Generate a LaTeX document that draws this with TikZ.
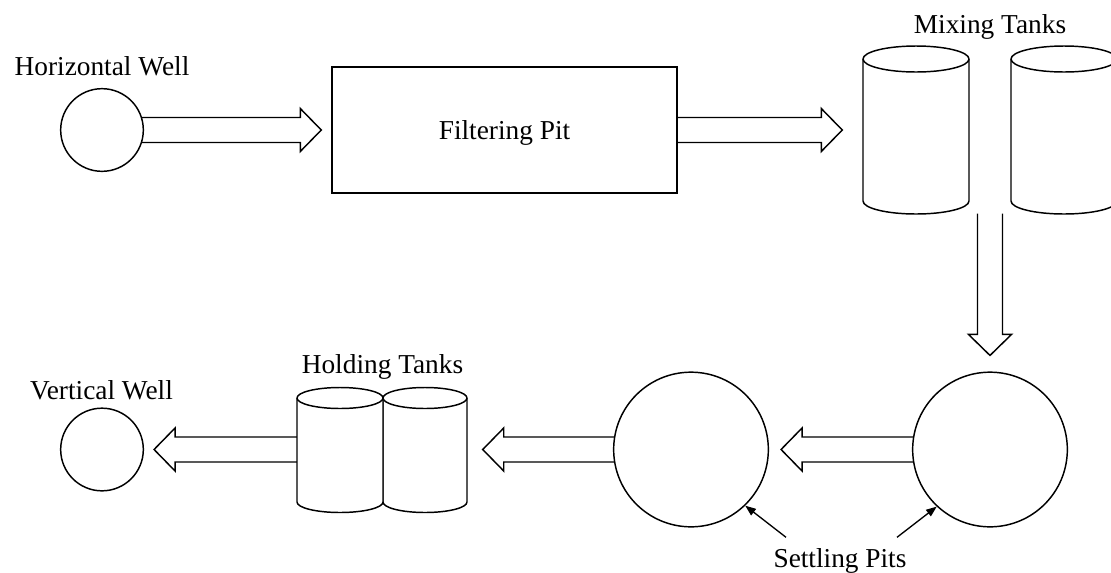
\documentclass[tikz,border=0pt]{standalone}
\usepackage{fontspec}
\setmainfont{Liberation Serif}
\usetikzlibrary{calc,backgrounds,arrows.meta}

% cylinder tank: #1 name, #2 centre x, #3 top y, #4 bottom y, #5 x radius, #6 y radius
\newcommand\tank[6]{%
  \path[tankline] (#2-#5,#3) -- (#2-#5,#4)
      arc[start angle=180, end angle=0, x radius=#5, y radius=#6] -- (#2+#5,#3);
  \path[tankline] (#2,#3) ellipse[x radius=#5, y radius=#6];
  \node[inner sep=0, minimum width={1.5pt*#5}, minimum height={0.75pt*(#4-#3)}]
      (#1) at (#2,{(#3+#4)/2}) {};
}
% open-tailed block arrows (tail, tip)
\newcommand\arrowR[2]{%
  \draw[blockarrow] ($(#1)+(0,-12.5)$) -- ($(#2)+(-21,-12.5)$) -- ($(#2)+(-21,-21.5)$)
    -- (#2) -- ($(#2)+(-21,21.5)$) -- ($(#2)+(-21,12.5)$) -- ($(#1)+(0,12.5)$);}
\newcommand\arrowL[2]{%
  \draw[blockarrow] ($(#1)+(0,-12.5)$) -- ($(#2)+(21,-12.5)$) -- ($(#2)+(21,-21.5)$)
    -- (#2) -- ($(#2)+(21,21.5)$) -- ($(#2)+(21,12.5)$) -- ($(#1)+(0,12.5)$);}
\newcommand\arrowD[2]{%
  \draw[blockarrow] ($(#1)+(-12.5,0)$) -- ($(#2)+(-12.5,-21)$) -- ($(#2)+(-21.5,-21)$)
    -- (#2) -- ($(#2)+(21.5,-21)$) -- ($(#2)+(12.5,-21)$) -- ($(#1)+(12.5,0)$);}

\begin{document}
\begin{tikzpicture}[x=0.75pt, y=-0.75pt, line width=1.1pt,
  every node/.style={font=\fontsize{20.5}{24}\selectfont},
  labeltext/.style={anchor=base, inner sep=0},
  well/.style={circle, draw, fill=white, minimum size=62pt, inner sep=0},
  pit/.style={circle, draw, fill=white, minimum size=116pt, inner sep=0},
  tankline/.style={draw, fill=white, line join=round},
  blockarrow/.style={line width=1.1pt, line join=miter},
  pointer/.style={-{Triangle[length=8pt, width=6pt]}, line width=1pt}]

\useasboundingbox (0,0) rectangle (1111,572);
\clip (0,0) rectangle (1111,572);

% wells, filtering pit and settling pits
\node[well] (hw) at (102,130) {};
\node[well] (vw) at (102,449.5) {};
\node[draw, fill=white, minimum width=258.75pt, minimum height=94.5pt,
      text depth=0pt, inner sep=0] (fp) at (504.5,130) {Filtering Pit};
\node[pit] (sp1) at (691,449.5) {};
\node[pit] (sp2) at (990,449.5) {};

% mixing tanks and holding tanks
\tank{mt1}{916}{59}{201}{53}{13}
\tank{mt2}{1064}{59}{201}{53}{13}
\tank{ht2}{425}{398}{502}{42}{10.5}
\tank{ht1}{340}{398}{502}{43}{10.5}

% labels
\node[labeltext] (lhw) at (102,75) {Horizontal Well};
\node[labeltext] (lmt) at (990,33) {Mixing Tanks};
\node[labeltext] (lht) at (382.5,373) {Holding Tanks};
\node[labeltext] (lvw) at (101.5,399) {Vertical Well};
\node[labeltext] (spl) at (840,567) {Settling Pits};

% arrow ends
\coordinate (t1) at ($(fp.west)+(-10,0)$);
\coordinate (t2) at ($(mt1.west)+(-20,0)$);
\coordinate (s3) at ($($(mt1.south east)!0.5!(mt2.south west)$)+(0,12)$);
\coordinate (t3) at ($(sp2.north)+(0,-16)$);
\coordinate (t4) at ($(sp1.east)+(12,0)$);
\coordinate (h5) at ($(ht2.east)+(15,0)$);
\coordinate (t5) at (h5 |- sp1);
\coordinate (t6) at ($(vw.east)+(10,0)$);
\coordinate (s6) at (ht1 |- vw);
\coordinate (pt1) at ($(spl.north)+(-54,-10)$);
\coordinate (pt2) at ($(spl.north)+(57,-10)$);

\begin{scope}[on background layer]
  \arrowR{hw}{t1}
  \arrowR{fp}{t2}
  \arrowD{s3}{t3}
  \arrowL{sp2}{t4}
  \arrowL{sp1}{t5}
  \arrowL{s6}{t6}
\end{scope}

\draw[pointer] (pt1) -- (sp1.314);
\draw[pointer] (pt2) -- (sp2.227);
\end{tikzpicture}
\end{document}
